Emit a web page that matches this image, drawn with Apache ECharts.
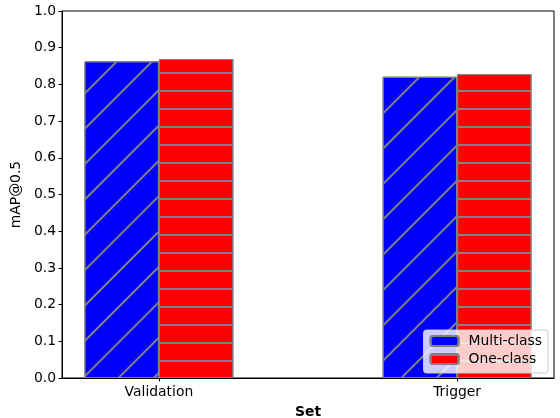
<!DOCTYPE html>
<html>
<head>
<meta charset="utf-8">
<script src="https://cdn.jsdelivr.net/npm/echarts@6/dist/echarts.min.js"></script>
<style>
html,body{margin:0;padding:0;background:#fff;}
#chart{width:560px;height:418px;}
</style>
</head>
<body>
<div id="chart"></div>
<script>
const categories = ['Validation', 'Trigger'];
const multiClass = [0.863, 0.821];
const oneClass = [0.869, 0.828];
const yTickLabels = ['0.0','0.1','0.2','0.3','0.4','0.5','0.6','0.7','0.8','0.9','1.0'];

const FONT = 'DejaVu Sans';
const FS = 13.9;
const chart = echarts.init(document.getElementById('chart'), null, {renderer: 'canvas'});
const xTicks = categories.map((c, i) => i);

chart.setOption({
  animation: false,
  backgroundColor: '#fff',
  textStyle: {fontFamily: FONT},
  grid: {left: 62, right: 6, top: 11, bottom: 40, containLabel: false, outerBoundsMode: 'none',
    show: true, borderColor: '#000', borderWidth: 1, backgroundColor: 'transparent'},
  legend: {
    orient: 'vertical', right: 12, bottom: 45,
    itemWidth: 28, itemHeight: 10, itemGap: 4,
    padding: [4, 6, 7, 6],
    backgroundColor: 'rgba(255,255,255,0.8)', borderColor: '#cccccc', borderWidth: 1, borderRadius: 3,
    textStyle: {fontFamily: FONT, fontSize: FS, color: '#000', padding: [0, 0, 0, 5]},
    data: ['Multi-class', 'One-class']
  },
  xAxis: {
    type: 'value', min: -0.325, max: 1.325,
    name: 'Set', nameLocation: 'middle', nameGap: 27,
    nameTextStyle: {fontFamily: FONT, fontSize: FS, fontWeight: 'bold', color: '#000'},
    axisLine: {show: true, onZero: false, lineStyle: {color: '#000', width: 1}},
    axisTick: {show: true, customValues: xTicks, length: 3.5, lineStyle: {color: '#000'}},
    axisLabel: {show: true, customValues: xTicks, formatter: v => categories[Math.round(v)], color: '#000', fontSize: FS, fontFamily: FONT, margin: 7},
    splitLine: {show: false}
  },
  yAxis: {
    type: 'value', min: 0, max: 1, interval: 0.1,
    name: 'mAP@0.5', nameLocation: 'middle', nameGap: 34,
    nameTextStyle: {fontFamily: FONT, fontSize: FS, color: '#000'},
    axisLine: {show: true, onZero: false, lineStyle: {color: '#000', width: 1}},
    axisTick: {show: true, length: 3.5, lineStyle: {color: '#000'}},
    axisLabel: {color: '#000', fontSize: FS, fontFamily: FONT, margin: 6,
      formatter: v => yTickLabels[Math.round(v * 10)]},
    splitLine: {show: false}
  },
  series: [
    {
      name: 'Multi-class', type: 'bar', barWidth: 74.5, barGap: '0%',
      data: categories.map((c, i) => [i, multiClass[i]]),
      itemStyle: {
        color: '#0000ff', borderColor: '#808080', borderWidth: 1,
        decal: {symbol: 'rect', symbolSize: 1, color: '#808080', dashArrayX: [1, 0], dashArrayY: [1.4, 22.2], rotation: -Math.PI / 4}
      }
    },
    {
      name: 'One-class', type: 'bar', barWidth: 74.5, barGap: '0%',
      data: categories.map((c, i) => [i, oneClass[i]]),
      itemStyle: {
        color: '#ff0000', borderColor: '#808080', borderWidth: 1,
        decal: {symbol: 'rect', symbolSize: 1, color: '#808080', dashArrayX: [1, 0], dashArrayY: [1.5, 15.17], rotation: 0}
      }
    }
  ]
});
</script>
</body>
</html>
